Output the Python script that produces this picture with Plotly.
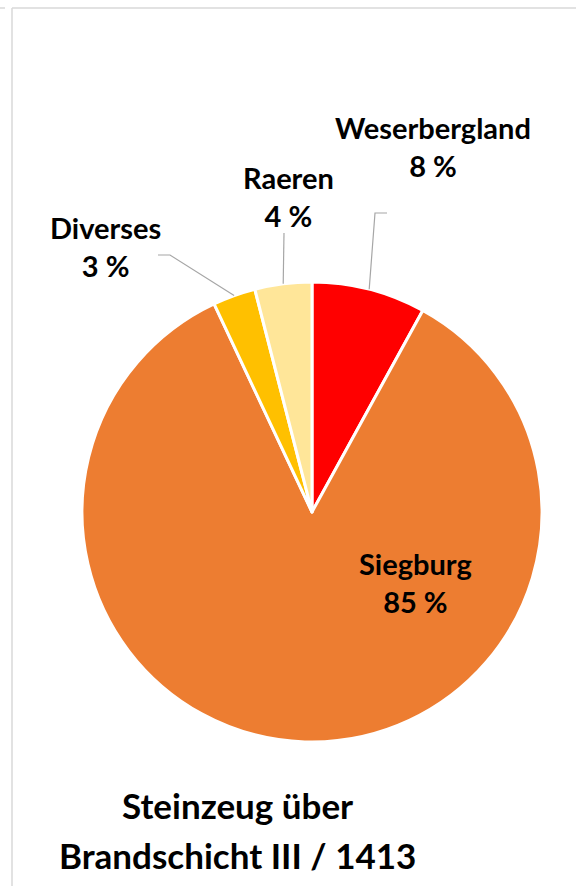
import math
import plotly.graph_objects as go

# Stoneware groups above burn layer III (1413), share in percent
labels = ["Weserbergland", "Siegburg", "Diverses", "Raeren"]
values = [8, 85, 3, 4]
colors = ["#FF0000", "#ED7D31", "#FFC000", "#FFE699"]
title_lines = ["Steinzeug über", "Brandschicht III / 1413"]

W, H = 576, 886
cx, cy, R = 312, 512, 230

fig = go.Figure()
fig.add_trace(go.Pie(
    labels=labels, values=values, sort=False, direction="clockwise", rotation=0,
    marker=dict(colors=colors, line=dict(color="white", width=3)),
    textinfo="none", hoverinfo="label+percent", showlegend=False,
    domain=dict(x=[(cx - R) / W, (cx + R) / W], y=[1 - (cy + R) / H, 1 - (cy - R) / H]),
))

# positions of the data labels (pixel coordinates)
label_pos = {
    "Weserbergland": (433, 146),
    "Siegburg": (415, 582),
    "Diverses": (105, 246),
    "Raeren": (288, 196),
}
# leader-line bends for the outside labels
leader = {
    "Weserbergland": [(375, 213), (387, 213)],
    "Diverses": [(170, 255), (158, 255)],
    "Raeren": [(284, 233)],
}

total = sum(values)
cum = 0
font = "Lato, 'Open Sans', sans-serif"
for lab, v in zip(labels, values):
    mid = (cum + v / 2) / total * 2 * math.pi
    cum += v
    px, py = label_pos[lab]
    fig.add_annotation(
        x=px, y=py, xref="x", yref="y", showarrow=False,
        text=f"<b>{lab}<br>{v} %</b>", align="center",
        font=dict(family=font, size=29, color="black"),
    )
    if lab in leader:
        sx = cx + R * math.sin(mid)
        sy = cy - R * math.cos(mid)
        pts = [(sx, sy)] + leader[lab]
        path = "M " + " L ".join(f"{x:.1f},{y:.1f}" for x, y in pts)
        fig.add_shape(type="path", path=path, xref="x", yref="y",
                      line=dict(color="#A6A6A6", width=1.2))

# chart title, one annotation per line
for line, ty in zip(title_lines, [805, 855]):
    fig.add_annotation(
        x=237, y=ty, xref="x", yref="y", showarrow=False,
        text=f"<b>{line}</b>", align="center",
        font=dict(family=font, size=35, color="black"),
    )

# chart-area frame
fig.add_shape(type="line", x0=12, y0=8, x1=576, y1=8, xref="x", yref="y",
              line=dict(color="#D9D9D9", width=1.5))
fig.add_shape(type="line", x0=12, y0=8, x1=12, y1=886, xref="x", yref="y",
              line=dict(color="#D9D9D9", width=1.5))
fig.add_shape(type="line", x0=0, y0=8, x1=5, y1=8, xref="x", yref="y",
              line=dict(color="#D9D9D9", width=1.5))

fig.update_layout(
    width=W, height=H, margin=dict(l=0, r=0, t=0, b=0),
    paper_bgcolor="white", plot_bgcolor="rgba(0,0,0,0)",
    xaxis=dict(range=[0, W], visible=False, fixedrange=True),
    yaxis=dict(range=[H, 0], visible=False, fixedrange=True),
)

fig.write_html("out.html")
